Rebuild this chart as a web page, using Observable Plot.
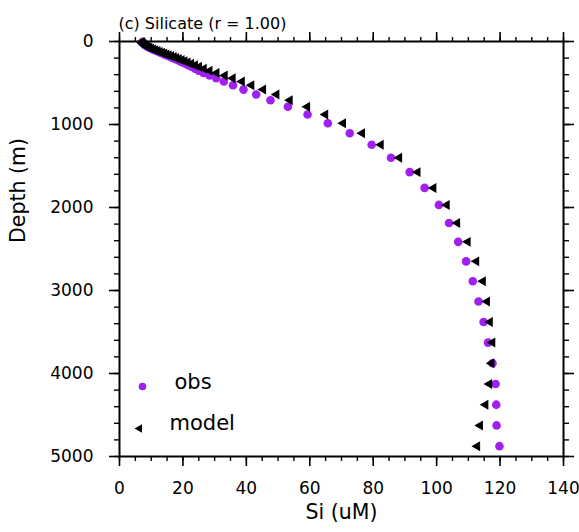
<!DOCTYPE html>
<html>
<head>
<meta charset="utf-8">
<script src="https://cdn.jsdelivr.net/npm/d3@7"></script>
<script src="https://cdn.jsdelivr.net/npm/@observablehq/plot@0.6"></script>
<style>
  html, body { margin: 0; padding: 0; background: #fff; }
  #chart svg { display: block; }
</style>
</head>
<body>
<div id="chart"></div>
<script>
const title = "(c) Silicate (r = 1.00)";
const xLabel = "Si (uM)";
const yLabel = "Depth (m)";
const seriesNames = ["obs", "model"];

const depth = [5, 15, 25, 35, 45, 55, 65, 75, 85, 95, 105, 115, 125, 135, 145, 155,
  165.1, 175.5, 186.3, 197.7, 209.7, 222.6, 236.4, 251.4, 267.7, 285.5, 305.1, 326.9,
  351.1, 378.2, 408.8, 443.4, 482.7, 527.7, 579.4, 638.9, 707.6, 787.0, 878.8, 984.7,
  1106.2, 1244.6, 1400.5, 1573.9, 1764.0, 1968.9, 2186.5, 2414.0, 2649.0, 2889.4,
  3133.4, 3379.8, 3627.7, 3876.5, 4125.8, 4375.6, 4625.5, 4875.6];

const obs = [7.3, 7.4, 7.6, 7.8, 8.1, 8.5, 8.9, 9.4, 10.0, 10.6, 11.2, 11.8, 12.4, 13.0, 13.6, 14.2,
  14.8, 15.4, 16.1, 16.8, 17.5, 18.3, 19.1, 19.9, 20.8, 21.7, 22.7, 23.8,
  25.0, 26.5, 28.4, 30.5, 32.9, 35.8, 39.1, 43.1, 47.6, 53.1, 59.3, 65.7,
  72.6, 79.5, 85.6, 91.5, 96.2, 100.7, 103.9, 106.8, 109.3, 111.4,
  113.2, 114.8, 116.2, 117.6, 118.6, 118.8, 118.9, 119.8];

const model = [7.0, 7.1, 7.3, 7.6, 8.0, 8.4, 8.9, 9.4, 10.0, 10.6, 11.3, 12.0, 12.7, 13.4, 14.1, 14.8,
  15.5, 16.3, 17.1, 17.9, 18.7, 19.6, 20.5, 21.5, 22.6, 23.8, 25.1, 26.6,
  28.4, 30.6, 33.2, 35.7, 38.6, 41.6, 45.3, 49.5, 53.7, 59.2, 64.9, 70.5,
  76.5, 82.4, 88.2, 94.0, 99.0, 103.2, 106.5, 109.8, 112.5, 114.6,
  115.9, 116.8, 117.6, 117.3, 116.6, 115.4, 113.7, 112.8];

const xMajor = [0, 20, 40, 60, 80, 100, 120, 140];
const xMinor = [0, 5, 10, 15, 20, 25, 30, 35, 40, 45, 50, 55, 60, 65, 70, 75, 80, 85, 90, 95,
  100, 105, 110, 115, 120, 125, 130, 135, 140];
const yMajor = [0, 1000, 2000, 3000, 4000, 5000];
const yMinor = [0, 200, 400, 600, 800, 1000, 1200, 1400, 1600, 1800, 2000, 2200, 2400, 2600,
  2800, 3000, 3200, 3400, 3600, 3800, 4000, 4200, 4400, 4600, 4800, 5000];

const rows = depth.map((d, i) => ({depth: d, obs: obs[i], model: model[i]}));

const purple = "#a020f0";
const font = "DejaVu Sans";

const chart = Plot.plot({
  width: 579,
  height: 532,
  marginLeft: 119,
  marginRight: 16,
  marginTop: 41,
  marginBottom: 76,
  style: {fontFamily: font, background: "#fff", color: "#000"},
  x: {domain: [0, 140]},
  y: {domain: [0, 5000], reverse: true},
  marks: [
    // data
    Plot.dot(rows, {x: "obs", y: "depth", r: 4.3, fill: purple}),
    Plot.dot(rows, {x: "model", y: "depth", symbol: "triangle", rotate: -90, r: 3.7, fill: "#000"}),
    // minor ticks
    Plot.axisX({anchor: "bottom", ticks: xMinor, tickSize: 5, text: null, label: null, strokeWidth: 1.4}),
    Plot.axisX({anchor: "top", ticks: xMinor, tickSize: 5, text: null, label: null, strokeWidth: 1.4}),
    Plot.axisY({anchor: "left", ticks: yMinor, tickSize: 5, text: null, label: null, strokeWidth: 1.4}),
    Plot.axisY({anchor: "right", ticks: yMinor, tickSize: 5, text: null, label: null, strokeWidth: 1.4}),
    // major ticks
    Plot.axisX({anchor: "bottom", ticks: xMajor, tickSize: 10, tickPadding: 15, tickFormat: d => String(d), label: null, fontSize: 17, strokeWidth: 1.6}),
    Plot.axisX({anchor: "top", ticks: xMajor, tickSize: 10, text: null, label: null, strokeWidth: 1.6}),
    Plot.axisY({anchor: "left", ticks: yMajor, tickSize: 10, tickPadding: 16, tickFormat: d => String(d), label: null, fontSize: 17, strokeWidth: 1.6}),
    Plot.axisY({anchor: "right", ticks: yMajor, tickSize: 10, text: null, label: null, strokeWidth: 1.6}),
    Plot.frame({stroke: "#000", strokeWidth: 2}),
    // titles
    Plot.text([title], {frameAnchor: "top-left", dx: -1, dy: -24, textAnchor: "start", fontSize: 16}),
    Plot.text([xLabel], {frameAnchor: "bottom", dy: 62, fontSize: 20.5}),
    Plot.text([yLabel], {frameAnchor: "left", dx: -101, dy: -6, rotate: -90, fontSize: 20.5}),
    // legend
    Plot.dot([seriesNames[0]], {frameAnchor: "bottom-left", dx: 23, dy: -70, r: 3.8, fill: purple}),
    Plot.dot([seriesNames[1]], {frameAnchor: "bottom-left", dx: 20, dy: -28, symbol: "triangle", rotate: -90, r: 3.2, fill: "#000"}),
    Plot.text([seriesNames[0]], {frameAnchor: "bottom-left", dx: 55, dy: -67.7, textAnchor: "start", fontSize: 21}),
    Plot.text([seriesNames[1]], {frameAnchor: "bottom-left", dx: 50, dy: -26.7, textAnchor: "start", fontSize: 21})
  ]
});
document.getElementById("chart").appendChild(chart);
</script>
</body>
</html>
